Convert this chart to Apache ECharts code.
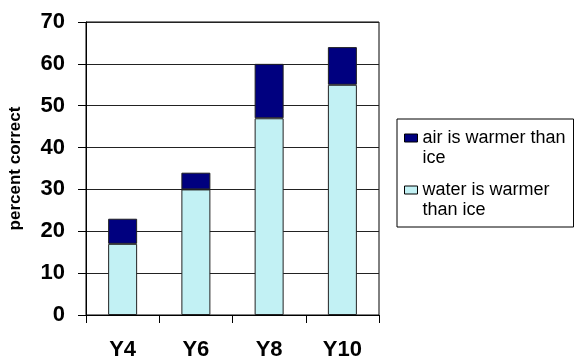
<!DOCTYPE html>
<html>
<head>
<meta charset="utf-8">
<script src="https://cdn.jsdelivr.net/npm/echarts@6/dist/echarts.min.js"></script>
<style>
  html, body { margin: 0; padding: 0; background: #fff; }
  #chart { width: 574px; height: 360px; }
</style>
</head>
<body>
<div id="chart"></div>
<script>
// Year groups and percentages of pupils answering correctly
const categories = ['Y4', 'Y6', 'Y8', 'Y10'];
const waterWarmer = [17, 30, 47, 55];   // lower segment
const airWarmer = [6, 4, 13, 9];        // upper segment, stacked on top
const yTicks = { min: 0, max: 70, interval: 10 };
const seriesNames = ['air is warmer than\nice', 'water is warmer\nthan ice'];

const FONT = '"Liberation Sans", Arial, sans-serif';

// Legend marker: a small square at the top of a taller box, so it sits beside the first text line
const legendIcon = 'path://M0,0L13,0L13,8L0,8Z M0,28';

const chart = echarts.init(document.getElementById('chart'), null, { renderer: 'canvas' });

chart.setOption({
  animation: false,
  backgroundColor: '#ffffff',
  grid: {
    left: 86, right: 195, top: 22, bottom: 45,
    outerBoundsMode: 'none',
    show: true, borderColor: '#000', borderWidth: 1, backgroundColor: 'transparent'
  },
  legend: {
    orient: 'vertical',
    left: 397, top: 119,
    padding: [9, 8, 7, 7],
    itemGap: 12,
    itemWidth: 13, itemHeight: 28,
    itemTextGap: 4,
    icon: legendIcon,
    borderColor: '#000', borderWidth: 1,
    itemStyle: { borderColor: '#000', borderWidth: 1 },
    textStyle: { fontFamily: FONT, fontSize: 18, lineHeight: 20, color: '#000' },
    data: [seriesNames[0], seriesNames[1]]
  },
  xAxis: {
    type: 'category',
    data: categories,
    axisLine: { show: true, lineStyle: { color: '#000', width: 1 } },
    axisTick: { show: true, length: 8, lineStyle: { color: '#000' } },
    axisLabel: { margin: 24, color: '#000', fontFamily: FONT, fontSize: 22, fontWeight: 'bold' },
    splitLine: { show: false }
  },
  yAxis: {
    type: 'value',
    min: yTicks.min, max: yTicks.max, interval: yTicks.interval,
    name: 'percent correct',
    nameLocation: 'middle',
    nameRotate: 90,
    nameGap: 62,
    nameTextStyle: { color: '#000', fontFamily: FONT, fontSize: 17, fontWeight: 'bold' },
    axisLine: { show: true, lineStyle: { color: '#000', width: 1 } },
    axisTick: { show: true, length: 8, lineStyle: { color: '#000' } },
    axisLabel: { margin: 21, color: '#000', fontFamily: FONT, fontSize: 22, fontWeight: 'bold' },
    splitLine: { show: true, lineStyle: { color: '#222', width: 1 } }
  },
  series: [
    {
      name: seriesNames[1],
      type: 'bar',
      stack: 'total',
      barWidth: 29,
      data: waterWarmer,
      itemStyle: { color: '#c2f1f4', borderColor: '#222', borderWidth: 1 }
    },
    {
      name: seriesNames[0],
      type: 'bar',
      stack: 'total',
      barWidth: 29,
      data: airWarmer,
      itemStyle: { color: '#00007f', borderColor: '#222', borderWidth: 1 }
    }
  ]
});
</script>
</body>
</html>
